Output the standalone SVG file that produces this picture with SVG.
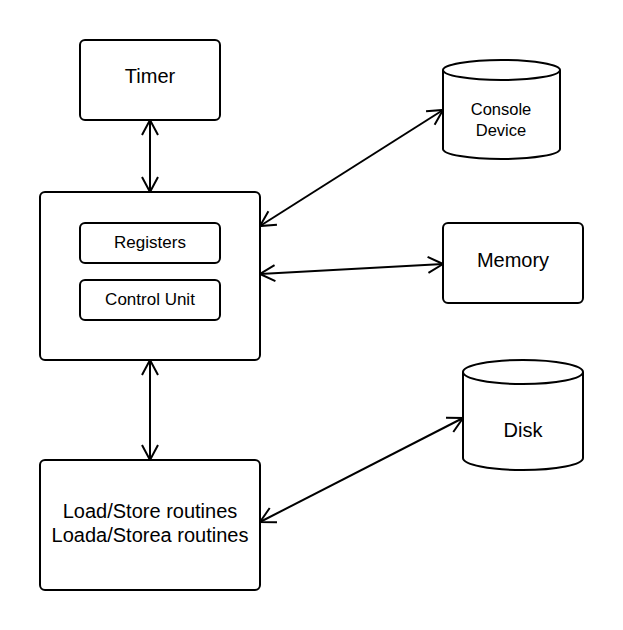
<svg xmlns="http://www.w3.org/2000/svg" width="623" height="630" viewBox="0 0 623 630">
<defs>
<marker id="ah" viewBox="0 0 20 20" refX="19" refY="10" markerWidth="20" markerHeight="20" markerUnits="userSpaceOnUse" orient="auto-start-reverse">
<path d="M4,2 L19,10 L4,18" fill="none" stroke="#000" stroke-width="2"/>
</marker>
</defs>
<style>
.box{fill:#fff;stroke:#000;stroke-width:2}
.t{font-family:"Liberation Sans",Arial,sans-serif;fill:#000;text-anchor:middle}
.c{fill:none;stroke:#000;stroke-width:2;marker-start:url(#ah);marker-end:url(#ah)}
</style>
<rect width="623" height="630" fill="#fff"/>
<g id="timer"><rect class="box" x="80" y="40" width="140" height="80" rx="5"/><text class="t" x="150" y="83" font-size="20">Timer</text></g>
<g id="cpu"><rect class="box" x="40" y="192" width="220" height="168" rx="5"/>
<g id="registers"><rect class="box" x="80" y="223" width="140" height="40" rx="5"/><text class="t" x="150" y="248" font-size="17">Registers</text></g>
<g id="control"><rect class="box" x="80" y="280" width="140" height="40" rx="5"/><text class="t" x="150" y="305" font-size="17">Control Unit</text></g>
</g>
<g id="console"><path class="box" d="M443,70 A58.5,10 0 0 1 560,70 L560,149 A58.5,10 0 0 1 443,149 Z"/><path d="M443,70 A58.5,10 0 0 0 560,70" fill="none" stroke="#000" stroke-width="2"/><text class="t" x="501" y="115" font-size="16.5">Console</text><text class="t" x="501" y="136" font-size="16.5">Device</text></g>
<g id="memory"><rect class="box" x="443" y="223" width="140" height="80" rx="5"/><text class="t" x="513" y="267" font-size="20">Memory</text></g>
<g id="disk"><path class="box" d="M463,372 A60,12 0 0 1 583,372 L583,458 A60,12 0 0 1 463,458 Z"/><path d="M463,372 A60,12 0 0 0 583,372" fill="none" stroke="#000" stroke-width="2"/><text class="t" x="523" y="437" font-size="20">Disk</text></g>
<g id="load"><rect class="box" x="40" y="460" width="220" height="130" rx="5"/><text class="t" x="150" y="518" font-size="20">Load/Store routines</text><text class="t" x="150" y="542" font-size="20">Loada/Storea routines</text></g>
<g id="connectors">
<line class="c" x1="150" y1="120" x2="150" y2="192"/>
<line class="c" x1="260" y1="226" x2="443" y2="110"/>
<line class="c" x1="260" y1="274" x2="443" y2="264"/>
<line class="c" x1="150" y1="360" x2="150" y2="460"/>
<line class="c" x1="260" y1="522" x2="463" y2="418"/>
</g>
</svg>
